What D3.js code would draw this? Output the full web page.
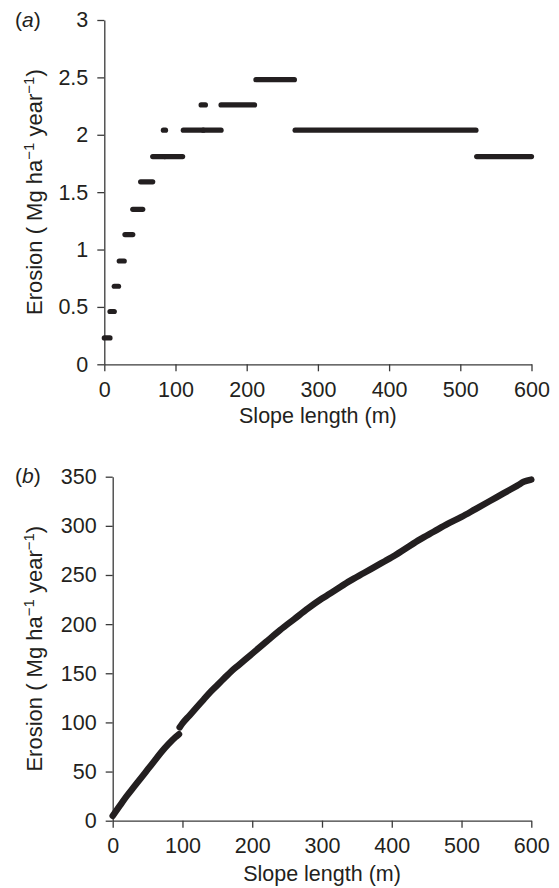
<!DOCTYPE html>
<html><head><meta charset="utf-8">
<script src="https://cdn.jsdelivr.net/npm/d3@7"></script>
<style>
body{margin:0;background:#fff}
svg{display:block}
text{font-family:"Liberation Sans",Arial,Helvetica,sans-serif;fill:#231f20}
</style>
</head><body>
<svg id="c" width="559" height="888"></svg>
<script>
// ---- tick labels ----
const xTicks = [0, 100, 200, 300, 400, 500, 600];
const yTicksA = [0, 0.5, 1, 1.5, 2, 2.5, 3];
const yTicksB = [0, 50, 100, 150, 200, 250, 300, 350];

// ---- panel (a): stepped erosion values (runs of points) ----
const stepStart = [0, 8, 14, 21, 29, 40, 51, 68, 85, 83, 111, 139, 136, 164, 213, 268, 523];
const stepEnd   = [8, 14, 20, 28, 40, 54, 68, 85, 110, 86, 139, 164, 142, 211, 267, 522, 600];
const stepValue = [0.23, 0.46, 0.68, 0.90, 1.13, 1.35, 1.59, 1.81, 1.81, 2.04, 2.04, 2.04, 2.26, 2.26, 2.48, 2.04, 1.81];

// ---- panel (b): erosion curve, two pieces (jump near 95 m) ----
const lowLength  = [0, 10, 20, 30, 40, 50, 60, 70, 80, 90, 95];
const lowErosion = [5, 15, 25, 34, 43, 52, 61, 70, 78, 85, 88];
const highLength  = [96, 100, 110, 120, 130, 140, 150, 160, 170, 180, 190, 200, 220, 240, 260, 280, 300, 320, 340, 360, 380, 390, 400, 420, 440, 460, 480, 500, 520, 540, 560, 580, 590, 600];
const highErosion = [95, 99, 107, 115, 123, 131, 138, 145, 152, 158, 164, 170, 182, 194, 205, 216, 226, 235, 244, 252, 260, 264, 268, 277, 286, 294, 302, 309, 317, 325, 333, 341, 345, 347];

const INK = "#231f20";
const AXIS = "#3a3a3a";
const FS = 21.5;

const svg = d3.select("#c");

function panel(opts) {
  const x = d3.scaleLinear().domain([0, 600]).range(opts.xr);
  const y = d3.scaleLinear().domain(opts.yd).range(opts.yr);
  const g = svg.append("g");

  const ax = g.append("g").attr("transform", `translate(0,${opts.yr[0]})`)
    .call(d3.axisBottom(x).tickValues(xTicks).tickFormat(d => String(d))
      .tickSize(7).tickSizeOuter(0).tickPadding(10));
  const ay = g.append("g").attr("transform", `translate(${opts.xr[0]},0)`)
    .call(d3.axisLeft(y).tickValues(opts.yTicks).tickFormat(d => String(d))
      .tickSize(7).tickSizeOuter(0).tickPadding(9));
  [ax, ay].forEach(a => {
    a.selectAll("path,line").attr("stroke", AXIS).attr("stroke-width", 1.3);
    a.selectAll("text").attr("font-size", FS).attr("fill", INK)
      .style("font-family", '"Liberation Sans",Arial,sans-serif');
  });

  // x title
  g.append("text").attr("x", (opts.xr[0] + opts.xr[1]) / 2).attr("y", opts.xTitleY)
    .attr("text-anchor", "middle").attr("font-size", FS).text("Slope length (m)");

  // y title
  const cy = (opts.yr[0] + opts.yr[1]) / 2;
  const t = g.append("text").attr("transform", `translate(42,${cy}) rotate(-90)`)
    .attr("text-anchor", "middle").attr("font-size", 22);
  t.append("tspan").text("Erosion ( Mg ha");
  t.append("tspan").attr("font-size", 15).attr("dy", -8).text("\u22121");
  t.append("tspan").attr("dy", 8).text(" year");
  t.append("tspan").attr("font-size", 15).attr("dy", -8).text("\u22121");
  t.append("tspan").attr("dy", 8).text(")");

  // panel letter
  const p = g.append("text").attr("x", 15).attr("y", opts.letterY).attr("font-size", 21);
  p.append("tspan").text("(");
  p.append("tspan").attr("font-style", "italic").text(opts.letter);
  p.append("tspan").text(")");

  return {g, x, y};
}

// Panel a
const A = panel({xr: [104.3, 531.5], yr: [364.3, 20], yd: [0, 3], yTicks: yTicksA,
  xTitleY: 423, letterY: 27, letter: "a"});
const steps = stepStart.map((s, i) => ({s, e: stepEnd[i], v: stepValue[i]}));
A.g.append("g").selectAll("line").data(steps).join("line")
  .attr("x1", d => A.x(d.s)).attr("x2", d => A.x(d.e))
  .attr("y1", d => A.y(d.v)).attr("y2", d => A.y(d.v))
  .attr("stroke", INK).attr("stroke-width", 5.2).attr("stroke-linecap", "round");

// Panel b
const B = panel({xr: [112.7, 531.3], yr: [820.7, 476.7], yd: [0, 350], yTicks: yTicksB,
  xTitleY: 881, letterY: 483, letter: "b"});
const line = d3.line().x(d => B.x(d[0])).y(d => B.y(d[1])).curve(d3.curveMonotoneX);
[[lowLength, lowErosion], [highLength, highErosion]].forEach(([xs, ys]) => {
  B.g.append("path").datum(xs.map((v, i) => [v, ys[i]]))
    .attr("d", line).attr("fill", "none").attr("stroke", INK)
    .attr("stroke-width", 6.5).attr("stroke-linecap", "round").attr("stroke-linejoin", "round");
});
</script>
</body></html>
